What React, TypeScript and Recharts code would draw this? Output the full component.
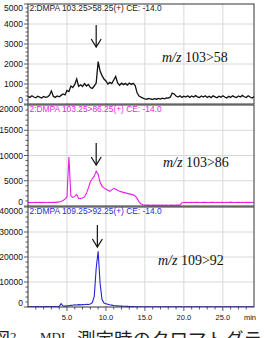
import { LineChart, Line, XAxis, YAxis, CartesianGrid } from 'recharts'

// retention time grid, 0 - 29 min every 0.25 min
const times = Array.from({ length: 117 }, (_, i) => i * 0.25)

// m/z 103>58 (black)
const mz58 = [
  380, 330, 410, 350, 310, 390, 340, 300, 380, 330, 360, 430, 650, 390, 330, 400,
  360, 430, 500, 460, 680, 620, 900, 820, 980, 1250, 880, 960, 870, 1020, 900, 980,
  820, 780, 900, 1050, 2120, 1650, 1420, 1250, 1150, 1000, 1080, 1020, 1200, 1380, 1050, 940,
  1040, 970, 1030, 950, 1050, 980, 1030, 920, 560, 400, 340, 290, 260, 240, 280, 250,
  230, 270, 240, 280, 250, 290, 260, 300, 290, 340, 540, 500, 400, 350, 410, 330,
  390, 350, 410, 330, 400, 350, 420, 360, 320, 400, 350, 410, 330, 390, 320, 410,
  360, 310, 390, 340, 410, 350, 300, 390, 330, 410, 360, 320, 400, 350, 430, 360,
  320, 410, 350, 300, 370,
]

// m/z 103>86 (magenta)
const mz86 = [
  650, 720, 680, 700, 740, 690, 710, 670, 720, 700, 680, 730, 700, 740, 720, 770,
  820, 900, 1100, 1350, 1800, 9700, 2000, 1700, 1900, 2300, 1500, 1500, 1600, 1800, 2500, 3600,
  4800, 5400, 5900, 6900, 6300, 4700, 3900, 3600, 3300, 3100, 2900, 3200, 3500, 3300, 3100, 2900,
  2800, 2700, 2600, 2500, 2400, 2300, 2200, 2000, 1500, 800, 400, 250, 200,
  180, 170, 160, 190, 170, 150, 180, 160, 170, 150, 180, 160, 170, 190, 160, 180, 170, 160,
  650, 700,
  720, 680, 700, 740, 690, 710, 730, 700, 680, 720, 750, 700, 690, 730, 710, 680, 720, 700,
  740, 710, 690, 720, 700, 760, 720, 690, 710, 740, 700, 730, 690, 720, 750, 710, 700, 730,
]

// m/z 109>92 (blue)
const mz92 = [
  150, 120, 160, 130, 140, 170, 130, 150, 120, 160, 140, 130, 170, 150, 140, 160,
  250, 1300, 400, 350, 450, 500, 650, 700, 900, 800, 950, 850, 1000, 900, 1100, 1000,
  1200, 1700, 4200, 15500, 22300, 9500, 3000, 1600, 1300, 1100, 900, 750, 600, 500, 450, 400,
  350, 300, 280, 250, 220, 200, 150, 100,
  50, 40, 60, 30, 50, 70, 40, 50, 30, 60, 40, 50, 70, 30, 50, 40, 60, 50, 30, 40,
  60, 50, 70, 40, 30, 50, 60, 40, 50, 30, 70, 50, 40, 60, 30, 50, 40, 60, 50, 30,
  40, 70, 50, 60, 30, 40, 50, 60, 40, 30, 50, 70, 40, 50, 60, 30, 40, 50, 60, 40, 50,
]

const xMajor = [5, 10, 15, 20, 25]
const xTicks = [1, 2, 3, 4, 5, 6, 7, 8, 9, 10, 11, 12, 13, 14, 15, 16, 17, 18, 19, 20, 21, 22, 23, 24, 25, 26, 27, 28]

const W = 264
const H = 338
const LEFT = 28
const RIGHT = 254
const X_MAX = 29
const sans = '"Liberation Sans", Arial, sans-serif'
const serif = '"Liberation Serif", "Times New Roman", serif'

const panels = [
  {
    name: 'p58', values: mz58, color: '#111111', headColor: '#222222',
    header: '2:DMPA 103.25>58.25(+) CE: -14.0', mz: '103>58',
    yMax: 5000, yMajor: [0, 1000, 2000, 3000, 4000, 5000], yStep: 200,
    top: 4, bottom: 104, headY: 10.5, mzX: 162, mzY: 61.5, arrowT: 8.75, arrowY: [25, 47],
  },
  {
    name: 'p86', values: mz86, color: '#e61ee6', headColor: '#e61ee6',
    header: '2:DMPA 103.25>86.25(+) CE: -14.0', mz: '103>86',
    yMax: 20000, yMajor: [0, 5000, 10000, 15000, 20000], yStep: 1000,
    top: 105, bottom: 206, headY: 112.3, mzX: 163, mzY: 166.5, arrowT: 8.75, arrowY: [143, 165],
  },
  {
    name: 'p92', values: mz92, color: '#2323d2', headColor: '#2b2bdc',
    header: '2:DMPA 109.25>92.25(+) CE: -14.0', mz: '109>92',
    yMax: 40000, yMajor: [0, 10000, 20000, 30000, 40000], yStep: 2000,
    top: 207, bottom: 307, headY: 213.7, mzX: 158, mzY: 265, arrowT: 8.9, arrowY: [225, 247],
  },
]

const xPix = (t: number) => LEFT + (t / X_MAX) * (RIGHT - LEFT)

function Panel({ p, last }: { p: any; last: boolean }) {
  const rows = times.map((t, i) => ({ t, v: p.values[i] }))
  const yTicks: number[] = []
  for (let v = 0; v <= p.yMax; v += p.yStep) yTicks.push(v)

  const yTick = (props: any) => {
    const { y, payload } = props
    const v = payload.value
    const major = p.yMajor.includes(v)
    let ly = y
    if (v === p.yMax) ly += 3.5
    if (v === 0) ly -= 4.5
    return (
      <g>
        <line x1={LEFT - (major ? 4 : 2.5)} x2={LEFT} y1={y} y2={y} stroke="#333" strokeWidth={0.8} />
        {major && (
          <text x={LEFT - 5} y={ly} dy={3} textAnchor="end" fontSize={8.5} fontFamily={sans} fill="#111">
            {v}
          </text>
        )}
      </g>
    )
  }

  const xTick = (props: any) => {
    const { x, payload } = props
    const v = payload.value
    const major = xMajor.includes(v)
    return (
      <g>
        <line x1={x} x2={x} y1={p.bottom} y2={p.bottom + (major ? 4 : 2.5)} stroke="#2a2a70" strokeWidth={0.8} />
        {major && (
          <text x={x} y={p.bottom + 12.5} textAnchor="middle" fontSize={7.5} fontFamily={sans} fill="#111">
            {v.toFixed(1)}
          </text>
        )}
      </g>
    )
  }

  return (
    <div style={{ position: 'absolute', left: 0, top: 0 }}>
      <LineChart
        width={W}
        height={H}
        data={rows}
        margin={{ top: p.top, right: W - RIGHT, left: 0, bottom: last ? H - p.bottom - 20 : H - p.bottom }}
      >
        <CartesianGrid
          stroke="#d8d8d8"
          verticalValues={xMajor}
          horizontalValues={p.yMajor.filter((v: number) => v > 0 && v < p.yMax)}
        />
        <XAxis
          type="number"
          dataKey="t"
          domain={[0, X_MAX]}
          ticks={xTicks}
          interval={0}
          hide={!last}
          height={20}
          axisLine={false}
          tickLine={false}
          tick={xTick}
        />
        <YAxis
          type="number"
          domain={[0, p.yMax]}
          ticks={yTicks}
          interval={0}
          width={LEFT}
          axisLine={false}
          tickLine={false}
          tick={yTick}
          allowDataOverflow
        />
        <Line
          type="linear"
          dataKey="v"
          stroke={p.color}
          strokeWidth={p.name === 'p58' ? 1.3 : 1.1}
          dot={false}
          isAnimationActive={false}
        />
      </LineChart>
    </div>
  )
}

export default function App() {
  return (
    <div style={{ position: 'absolute', left: 0, top: 0, width: W, height: H, background: '#fff', overflow: 'hidden' }}>
      {panels.map((p, i) => (
        <Panel key={p.name} p={p} last={i === panels.length - 1} />
      ))}
      <svg width={W} height={H} style={{ position: 'absolute', left: 0, top: 0 }}>
        {panels.map((p) => {
          const ax = xPix(p.arrowT)
          const [a1, a2] = p.arrowY
          return (
            <g key={p.name}>
              <rect x={LEFT} y={p.top} width={RIGHT - LEFT} height={p.bottom - p.top} fill="none" stroke="#333" strokeWidth={1} />
              <text x={29.5} y={p.headY} fontSize={8.4} fontFamily={sans} fill={p.headColor}>
                {p.header}
              </text>
              <text x={p.mzX} y={p.mzY} fontSize={14} fontFamily={serif} fill="#111">
                <tspan fontStyle="italic">m/z</tspan> {p.mz}
              </text>
              <line x1={ax} x2={ax} y1={a1} y2={a2} stroke="#111" strokeWidth={1.2} />
              <polyline points={`${ax - 5},${a2 - 8} ${ax},${a2} ${ax + 5},${a2 - 8}`} fill="none" stroke="#111" strokeWidth={1.2} />
            </g>
          )
        })}
        <text x={250} y={319.5} textAnchor="middle" fontSize={7.5} fontFamily={sans} fill="#111">
          min
        </text>
        <text y={346} fontFamily={serif} fill="#222">
          <tspan x={-8} fontSize={18} fontFamily='"Noto Sans CJK JP", sans-serif'>図</tspan>
          <tspan x={10} y={341} fontSize={13}>2</tspan>
          <tspan x={40} y={341} fontSize={13}>MDL</tspan>
          <tspan x={77} y={346} fontSize={18.5} fontFamily='"Noto Sans CJK JP", sans-serif'>測定時のクロマトグラム</tspan>
        </text>
      </svg>
    </div>
  )
}
